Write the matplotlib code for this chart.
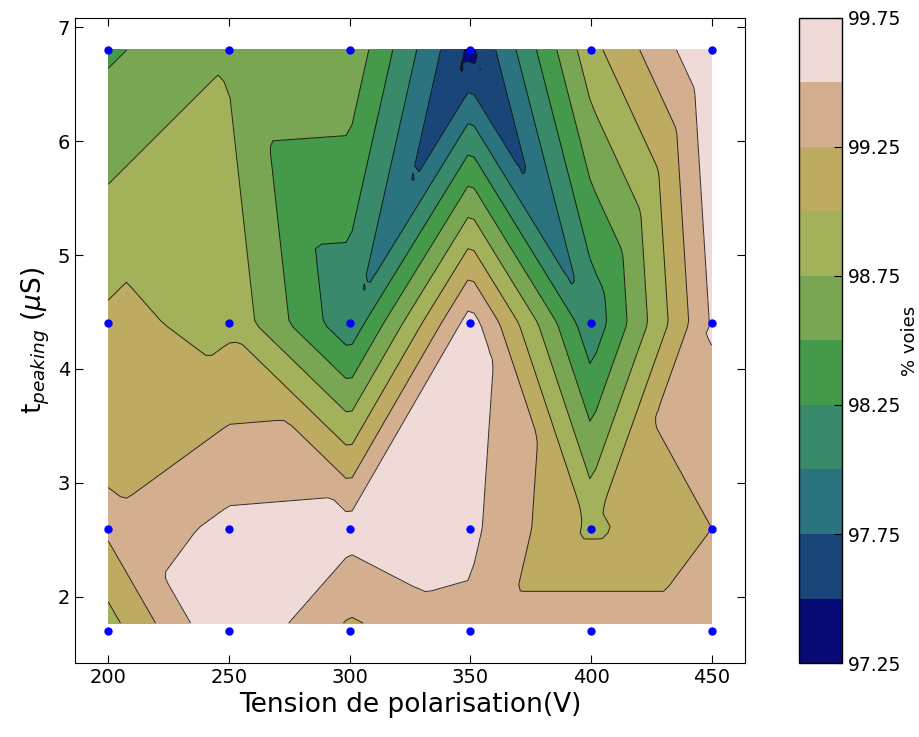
import numpy as np
import matplotlib
matplotlib.use("Agg")
import matplotlib.pyplot as plt
import matplotlib.tri as mtri

# measurement grid
tension = [200, 250, 300, 350, 400, 450]          # V
t_peaking = [1.7, 2.6, 4.4, 6.8]                  # us

# % voies, one row per peaking time (bottom to top)
voies_17 = [98.88, 99.74, 99.19, 99.44, 99.44, 99.44]
voies_26 = [99.30, 99.57, 99.60, 99.56, 98.95, 99.25]
voies_44 = [99.05, 98.94, 98.06, 99.63, 98.06, 99.53]
voies_68 = [98.46, 98.72, 98.70, 97.44, 98.92, 99.74]

# diagonal chosen in each grid cell by the triangulation ('/' or '\\')
diagonals = [
    ["\\", "/", "\\", "/", "\\"],
    ["/", "\\", "/", "\\", "/"],
    ["/", "\\", "/", "\\", "/"],
]

levels = np.arange(97.25, 99.76, 0.25)
cbar_ticks = [97.25, 97.75, 98.25, 98.75, 99.25, 99.75]


def build_triangulation(x, y, diag):
    nx = len(x)
    X, Y = np.meshgrid(x, y)
    tris = []
    for j, row in enumerate(diag):
        for i, d in enumerate(row):
            ll = j * nx + i
            lr = ll + 1
            ul = ll + nx
            ur = ul + 1
            if d == "/":
                tris += [[ll, lr, ur], [ll, ur, ul]]
            else:
                tris += [[ll, lr, ul], [ul, lr, ur]]
    return mtri.Triangulation(X.ravel(), Y.ravel(), tris)


z = np.array([voies_17, voies_26, voies_44, voies_68]).ravel()
tri = build_triangulation(tension, t_peaking, diagonals)

xi = np.linspace(200, 450, 100)
yi = np.linspace(1.77, 6.8, 90)
XI, YI = np.meshgrid(xi, yi)
zi = mtri.LinearTriInterpolator(tri, z)(XI, YI)

fig = plt.figure(figsize=(9.2, 7.37), dpi=100)
ax = fig.add_axes([0.0815, 0.1004, 0.7283, 0.8752])
cax = fig.add_axes([0.8685, 0.1004, 0.0467, 0.8752])

cf = ax.contourf(XI, YI, zi, levels=levels, cmap="gist_earth")
ax.contour(XI, YI, zi, levels=levels, colors="k", linewidths=0.7, alpha=0.8)

TX, TY = np.meshgrid(tension, t_peaking)
ax.plot(TX.ravel(), TY.ravel(), "o", color="b", mec="b", ms=5, ls="none")

ax.set_xlim(186.25, 463.75)
ax.set_ylim(1.42, 7.08)
ax.set_xticks(tension)
ax.set_xlabel("Tension de polarisation(V)", fontsize=19)
ax.set_ylabel(r"t$_{peaking}$ ($\mu$S)", fontsize=19)
ax.tick_params(direction="in", top=True, right=True, length=6, labelsize=14)

cb = fig.colorbar(cf, cax=cax, ticks=cbar_ticks)
cb.ax.tick_params(direction="in", length=6, labelsize=13.5, pad=4)
cb.ax.yaxis.set_major_formatter(matplotlib.ticker.FormatStrFormatter("%.2f"))
cb.set_label("% voies", fontsize=13, labelpad=0)
cb.outline.set_linewidth(1.0)

fig.savefig("out.png", dpi=100, facecolor="white")
